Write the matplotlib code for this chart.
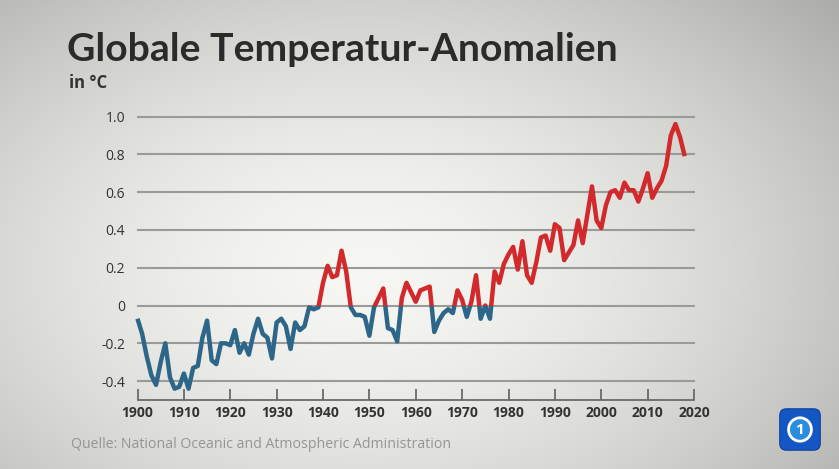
import matplotlib.pyplot as plt
import numpy as np
from matplotlib.patches import Rectangle, FancyBboxPatch, Circle

# NOAA annual global temperature anomalies
years = np.arange(1900, 2019)
anomalies = [
    -0.07, -0.15, -0.27, -0.37, -0.42, -0.30, -0.20, -0.38, -0.44, -0.43,
    -0.36, -0.44, -0.33, -0.32, -0.17, -0.08, -0.29, -0.31, -0.20, -0.20,
    -0.21, -0.13, -0.25, -0.20, -0.26, -0.15, -0.07, -0.15, -0.17, -0.28,
    -0.09, -0.07, -0.11, -0.23, -0.09, -0.13, -0.11, -0.01, -0.02, -0.01,
    0.12, 0.21, 0.15, 0.16, 0.29, 0.18, -0.01, -0.05, -0.05, -0.06,
    -0.16, -0.01, 0.04, 0.09, -0.12, -0.13, -0.19, 0.04, 0.12, 0.07,
    0.02, 0.08, 0.09, 0.10, -0.14, -0.08, -0.04, -0.02, -0.04, 0.08,
    0.03, -0.06, 0.02, 0.16, -0.07, 0.00, -0.07, 0.18, 0.12, 0.22,
    0.27, 0.31, 0.19, 0.34, 0.16, 0.12, 0.23, 0.36, 0.37, 0.29,
    0.43, 0.41, 0.24, 0.28, 0.32, 0.45, 0.33, 0.48, 0.63, 0.45,
    0.41, 0.53, 0.60, 0.61, 0.57, 0.65, 0.61, 0.61, 0.55, 0.62,
    0.70, 0.57, 0.62, 0.66, 0.74, 0.90, 0.96, 0.89, 0.79,
]
yticks = [-0.4, -0.2, 0, 0.2, 0.4, 0.6, 0.8, 1.0]
ytick_labels = ['-0.4', '-0.2', '0', '0.2', '0.4', '0.6', '0.8', '1.0']
xticks = list(range(1900, 2021, 10))

title = 'Globale Temperatur-Anomalien'
unit = 'in °C'
source = 'Quelle: National Oceanic and Atmospheric Administration'

plt.rcParams['font.family'] = ['Open Sans', 'DejaVu Sans']

W, H = 839, 469
fig = plt.figure(figsize=(W / 100, H / 100), dpi=100)

# grey vignette background
bg = fig.add_axes([0, 0, 1, 1], zorder=-10)
gx, gy = np.meshgrid(np.arange(W), np.arange(H))
r = np.sqrt(((gx - 360) / 560) ** 2 + ((gy - 270) / 360) ** 2)
shade = np.clip(0.965 - 0.24 * r ** 1.6, 0.6, 1)
img = np.dstack([shade, shade, shade * 0.985])
bg.imshow(img, extent=[0, W, H, 0], aspect='auto')
bg.set_xlim(0, W); bg.set_ylim(H, 0)
bg.axis('off')

ax = fig.add_axes([137.5 / W, (H - 400) / H, (694 - 137.5) / W, 283.5 / H])
ax.patch.set_alpha(0)
ax.set_xlim(1900, 2020)
ax.set_ylim(-0.5, 1.0)

for t in yticks:
    ax.axhline(t, color='#9a9a98', linewidth=1.5, zorder=1, clip_on=False)

blue, red = '#2d6688', '#d22a2c'
for col, rect in [(red, (1890, 0, 140, 5)), (blue, (1890, -5, 140, 5))]:
    ln, = ax.plot(years, anomalies, color=col, linewidth=3.2, zorder=3,
                  solid_joinstyle='round', solid_capstyle='butt', clip_on=True)
    ln.set_clip_path(Rectangle(rect[:2], rect[2], rect[3], transform=ax.transData))

for s in ['top', 'right', 'left']:
    ax.spines[s].set_visible(False)
ax.spines['bottom'].set_color('#6a6a6a')
ax.spines['bottom'].set_linewidth(1.3)

ax.set_yticks(yticks)
ax.set_yticklabels(ytick_labels, fontsize=10, color='#333333')
ax.tick_params(axis='y', length=0, pad=9)
ax.set_xticks(xticks)
ax.set_xticklabels([str(x) for x in xticks], fontsize=10, fontweight='bold', color='#333333')
ax.tick_params(axis='x', direction='in', length=8, width=1.3, color='#6a6a6a', pad=4)

fig.text(67 / W, 1 - 61 / H, title, fontsize=28.2, fontweight='bold', color='#2b2b2b',
         va='baseline', family=['Lato', 'DejaVu Sans'])
fig.text(69 / W, 1 - 88 / H, unit, fontsize=12, fontweight='bold', color='#333333', va='baseline')
fig.text(71 / W, 1 - 448 / H, source, fontsize=10.2, color='#959595', va='baseline')

# broadcaster logo, simplified
lg = fig.add_axes([778 / W, (H - 452) / H, 44 / W, 45 / H])
lg.set_xlim(0, 1); lg.set_ylim(0, 1); lg.axis('off')
lg.add_patch(FancyBboxPatch((0.04, 0.04), 0.92, 0.92, boxstyle='round,pad=0,rounding_size=0.15',
                            facecolor='#1456c4', edgecolor='#0d3f99', linewidth=0.8))
lg.add_patch(Circle((0.5, 0.5), 0.26, facecolor='#2a8de0', edgecolor='white', linewidth=2))
lg.text(0.5, 0.49, '1', color='white', fontsize=11, fontweight='bold', ha='center', va='center')

fig.savefig('out.png', dpi=100)
